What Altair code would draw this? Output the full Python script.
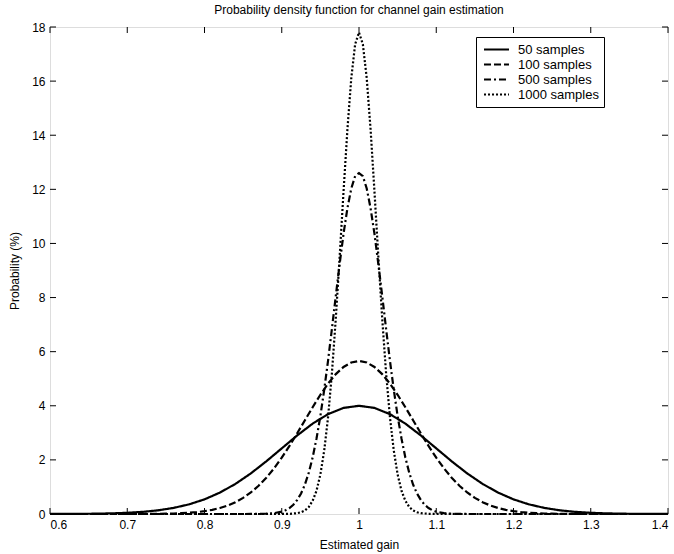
import altair as alt
import numpy as np
import pandas as pd

series_names = ["50 samples", "100 samples", "500 samples", "1000 samples"]

x50 = np.round(np.arange(0.60, 1.4001, 0.02), 3)
y50 = [0.001, 0.003, 0.006, 0.012, 0.024, 0.044, 0.079, 0.136, 0.225, 0.356,
       0.541, 0.792, 1.112, 1.501, 1.947, 2.426, 2.904, 3.341, 3.692, 3.921,
       4.0,
       3.921, 3.692, 3.341, 2.904, 2.426, 1.947, 1.501, 1.112, 0.792, 0.541,
       0.356, 0.225, 0.136, 0.079, 0.044, 0.024, 0.012, 0.006, 0.003, 0.001]

x100 = np.round(np.concatenate([[0.60], np.arange(0.70, 1.3001, 0.01), [1.40]]), 3)
y100 = [0.0,
        0.001, 0.001, 0.002, 0.004, 0.007, 0.011, 0.018, 0.029, 0.045, 0.069,
        0.104, 0.153, 0.222, 0.314, 0.437, 0.596, 0.797, 1.044, 1.340, 1.687,
        2.081, 2.517, 2.983, 3.466, 3.947, 4.406, 4.820, 5.170, 5.435, 5.600,
        5.657,
        5.600, 5.435, 5.170, 4.820, 4.406, 3.947, 3.466, 2.983, 2.517, 2.081,
        1.687, 1.340, 1.044, 0.797, 0.596, 0.437, 0.314, 0.222, 0.153, 0.104,
        0.069, 0.045, 0.029, 0.018, 0.011, 0.007, 0.004, 0.002, 0.001, 0.001,
        0.0]

x500 = np.round(np.concatenate([[0.60], np.arange(0.85, 0.8951, 0.01),
                                np.arange(0.90, 1.1001, 0.005),
                                np.arange(1.11, 1.1501, 0.01), [1.40]]), 3)
y500 = [0.0,
        0.0, 0.001, 0.003, 0.009, 0.030,
        0.085, 0.14, 0.22, 0.34, 0.52, 0.76, 1.09, 1.53, 2.09, 2.79,
        3.62, 4.60, 5.68, 6.86, 8.07, 9.25, 10.36, 11.30, 12.03, 12.49,
        12.60,
        12.49, 12.03, 11.30, 10.36, 9.25, 8.07, 6.86, 5.68, 4.60, 3.62,
        2.79, 2.09, 1.53, 1.09, 0.76, 0.52, 0.34, 0.22, 0.14, 0.085,
        0.030, 0.009, 0.003, 0.001, 0.0,
        0.0]

x1000 = np.round(np.concatenate([[0.60, 0.90, 0.91], np.arange(0.92, 1.0801, 0.005),
                                 [1.09, 1.10, 1.40]]), 3)
y1000 = [0.0, 0.001, 0.005,
         0.030, 0.064, 0.13, 0.26, 0.49, 0.86, 1.46, 2.35, 3.59, 5.23, 7.24,
         9.53, 11.93, 14.21, 16.11, 17.36,
         17.8,
         17.36, 16.11, 14.21, 11.93, 9.53, 7.24, 5.23, 3.59, 2.35, 1.46, 0.86,
         0.49, 0.26, 0.13, 0.064, 0.030,
         0.005, 0.001, 0.0]

x_ticks = [0.6, 0.7, 0.8, 0.9, 1.0, 1.1, 1.2, 1.3, 1.4]
y_ticks = [0, 2, 4, 6, 8, 10, 12, 14, 16, 18]

frames = []
for name, xs, ys in zip(series_names, [x50, x100, x500, x1000], [y50, y100, y500, y1000]):
    assert len(xs) == len(ys), (name, len(xs), len(ys))
    frames.append(pd.DataFrame({"gain": xs, "prob": ys, "series": name}))
df = pd.concat(frames, ignore_index=True)

FONT = "Liberation Sans"
xscale = alt.Scale(domain=[0.6, 1.4], nice=False, zero=False)
yscale = alt.Scale(domain=[0, 18], nice=False)

axis_style = dict(labelFont=FONT, labelFontSize=12, labelColor="black",
                  titleFont=FONT, titleFontSize=12, titleFontWeight="normal",
                  titleColor="black", tickSize=0, domain=False, grid=False)

lines = alt.Chart(df).mark_line(color="black", strokeWidth=2.2).encode(
    x=alt.X("gain:Q", scale=xscale,
            axis=alt.Axis(title="Estimated gain", values=x_ticks,
                          labelPadding=5, titlePadding=9,
                          labelExpr="datum.value == 1 ? '1' : format(datum.value, '.1f')",
                          **axis_style)),
    y=alt.Y("prob:Q", scale=yscale,
            axis=alt.Axis(title="Probability (%)", values=y_ticks,
                          labelPadding=5, titlePadding=10, **axis_style)),
    strokeDash=alt.StrokeDash(
        "series:N",
        scale=alt.Scale(domain=series_names,
                        range=[[1, 0], [7, 3], [7, 3, 2, 3], [2, 2]]),
        legend=alt.Legend(title=None, orient="none", legendX=426, legendY=10,
                          symbolType="M-2,0L2,0", symbolStrokeColor="black",
                          symbolStrokeWidth=2.2, symbolSize=156,
                          symbolOffset=8,
                          labelFont=FONT, labelFontSize=13, labelColor="black",
                          fillColor="white", strokeColor="black", padding=5,
                          rowPadding=0, labelOffset=14),
    ),
    detail="series:N",
)

xt = pd.DataFrame({"t": x_ticks})
yt = pd.DataFrame({"t": y_ticks})

bottom_ticks = alt.Chart(xt).mark_rule(color="black", strokeWidth=1).encode(
    x=alt.X("t:Q", scale=xscale), y=alt.value(487), y2=alt.value(481))
top_ticks = alt.Chart(xt).mark_rule(color="black", strokeWidth=1).encode(
    x=alt.X("t:Q", scale=xscale), y=alt.value(0), y2=alt.value(6))
left_ticks = alt.Chart(yt).mark_rule(color="black", strokeWidth=1).encode(
    y=alt.Y("t:Q", scale=yscale), x=alt.value(0), x2=alt.value(6))
right_ticks = alt.Chart(yt).mark_rule(color="black", strokeWidth=1).encode(
    y=alt.Y("t:Q", scale=yscale), x=alt.value(618), x2=alt.value(612))

chart = alt.layer(lines, bottom_ticks, top_ticks, left_ticks, right_ticks).properties(
    width=618, height=487,
    title=alt.Title("Probability density function for channel gain estimation",
                    font=FONT, fontSize=12, fontWeight="normal", color="black",
                    offset=4),
    autosize=alt.AutoSizeParams(type="none"),
    padding={"left": 50, "top": 27, "right": 6, "bottom": 40},
).configure_view(stroke="black", strokeWidth=1.5).configure(background="white")

chart.save("out.html", embed_options={"renderer": "svg", "actions": False})
